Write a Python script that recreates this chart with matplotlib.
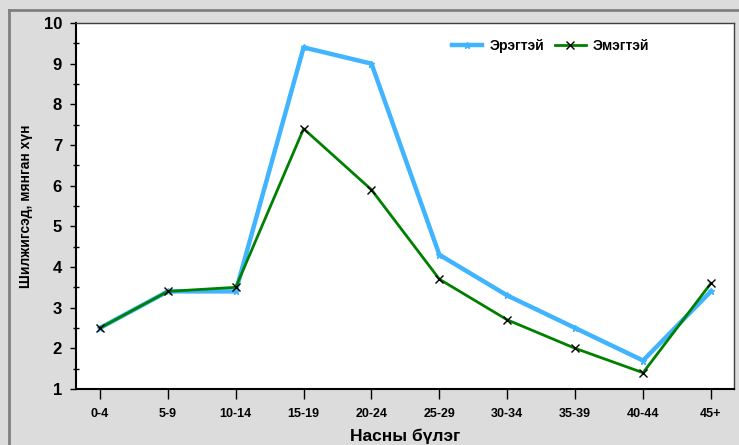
import matplotlib
matplotlib.use('Agg')
import matplotlib.pyplot as plt
from matplotlib.lines import Line2D
from matplotlib.ticker import MultipleLocator

# Өгөгдөл
age_groups = ['0-4', '5-9', '10-14', '15-19', '20-24', '25-29', '30-34', '35-39', '40-44', '45+']
male = [2.5, 3.4, 3.4, 9.4, 9.0, 4.3, 3.3, 2.5, 1.7, 3.4]
female = [2.5, 3.4, 3.5, 7.4, 5.9, 3.7, 2.7, 2.0, 1.4, 3.6]

plt.rcParams['font.family'] = ['Liberation Sans', 'DejaVu Sans']
plt.rcParams['font.weight'] = 'bold'

fig = plt.figure(figsize=(7.39, 4.45), dpi=100, facecolor='#dcdcdc')
ax = fig.add_axes([76 / 739, 56 / 445, 658 / 739, 366 / 445])
ax.set_facecolor('white')

# хүрээ
fig.add_artist(Line2D([9 / 739, 9 / 739], [0, 1 - 10 / 445], transform=fig.transFigure,
                      color='#7f7f7f', lw=2))
fig.add_artist(Line2D([9 / 739, 1], [1 - 10 / 445, 1 - 10 / 445], transform=fig.transFigure,
                      color='#7f7f7f', lw=2))

x = range(len(age_groups))
ax.plot(x, male, color='#40b4ff', lw=3.2, marker='*', ms=5, mec='#40b4ff', label='Эрэгтэй')
ax.plot(x, female, color='#008000', lw=2, marker='x', ms=6, mec='black', mew=1, label='Эмэгтэй')

ax.set_xlim(-0.353, 9.34)
ax.set_ylim(1, 10)
ax.set_xticks(list(x))
ax.set_xticklabels(age_groups, fontsize=9, fontweight='bold')
ax.yaxis.set_major_locator(MultipleLocator(1))
ax.yaxis.set_minor_locator(MultipleLocator(0.5))
ax.tick_params(axis='y', which='major', direction='out', length=4, width=1, labelsize=12, pad=6)
ax.tick_params(axis='y', which='minor', direction='inout', length=5, width=1)
ax.tick_params(axis='x', which='major', direction='out', length=7, width=1, pad=7)
for lbl in ax.get_yticklabels():
    lbl.set_fontweight('bold')

for s in ['left', 'bottom']:
    ax.spines[s].set_linewidth(1.5)
    ax.spines[s].set_color('black')
for s in ['top', 'right']:
    ax.spines[s].set_linewidth(1)
    ax.spines[s].set_color('#404040')

ax.set_ylabel('Шилжигсэд, мянган хүн', fontsize=10, fontweight='bold', labelpad=8)
ax.set_xlabel('Насны бүлэг', fontsize=12.5, fontweight='bold', labelpad=6)

ax.legend(loc='upper right', bbox_to_anchor=(0.89, 0.99), ncol=2, frameon=False,
          prop={'weight': 'bold', 'size': 10}, handlelength=2.2, columnspacing=0.8,
          handletextpad=0.5)

plt.savefig('out.png', dpi=100, facecolor=fig.get_facecolor())
